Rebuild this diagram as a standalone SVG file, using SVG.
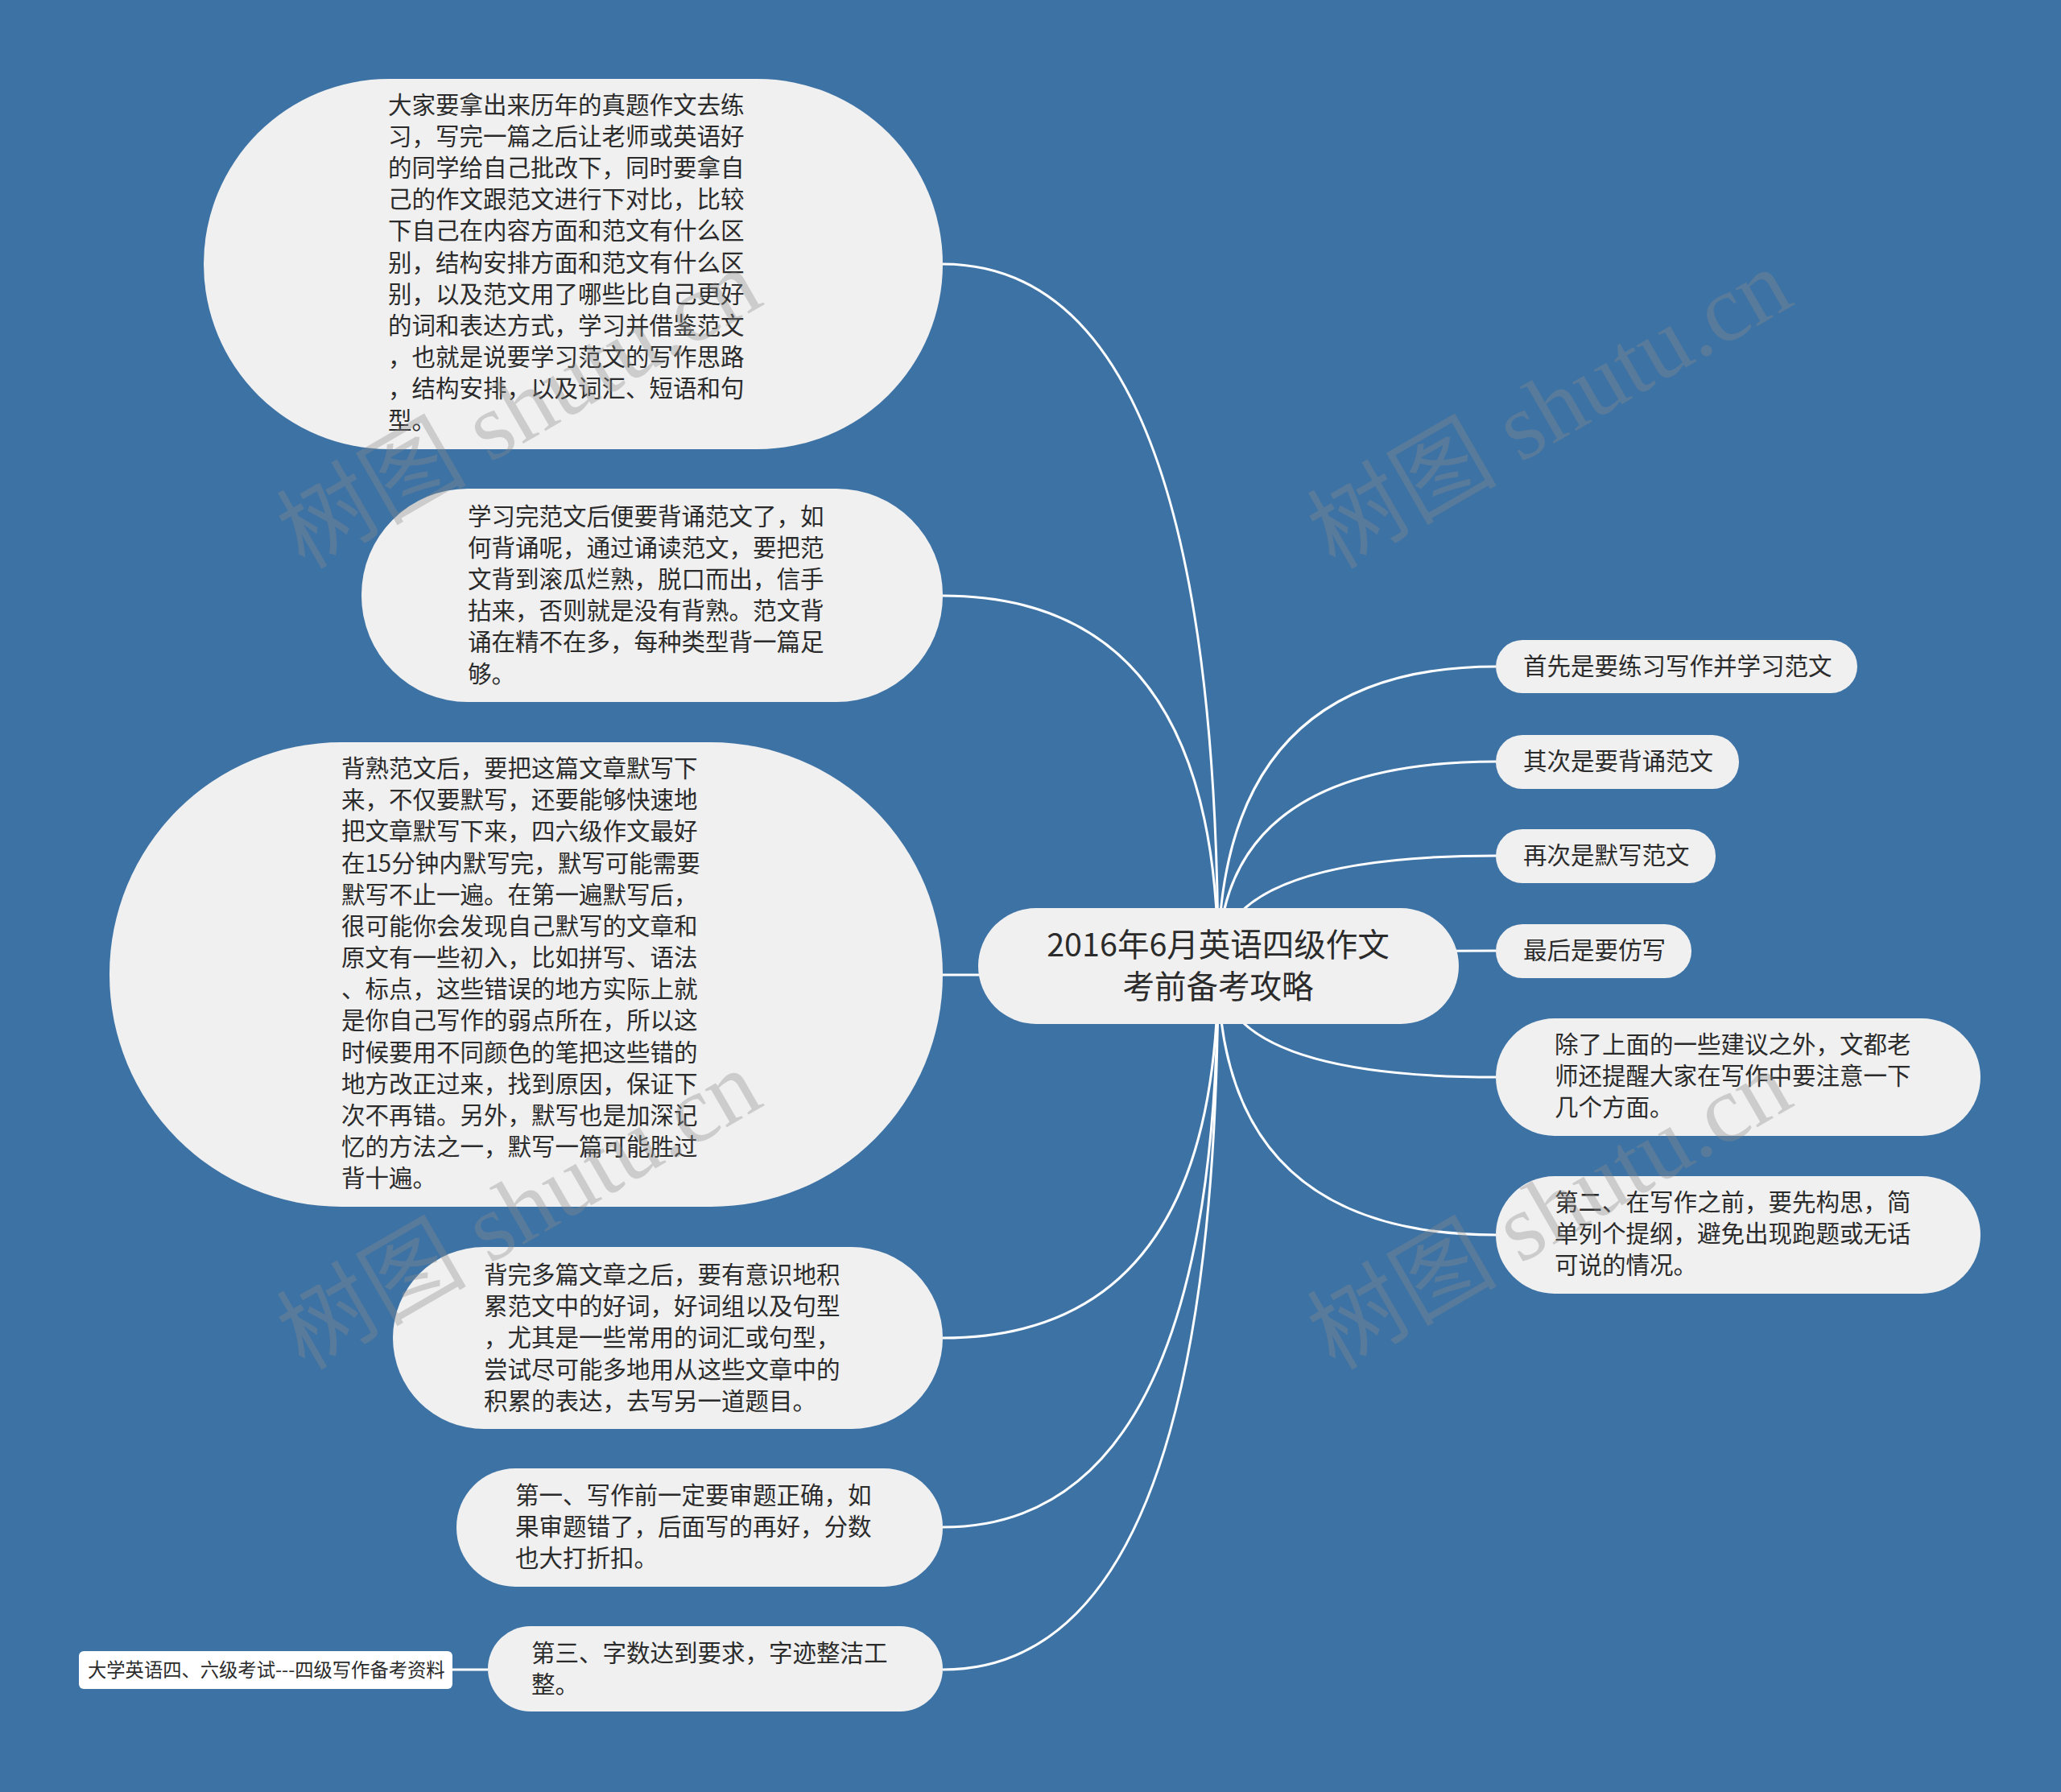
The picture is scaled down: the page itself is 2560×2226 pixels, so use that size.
<svg xmlns="http://www.w3.org/2000/svg" width="2560" height="2226" viewBox="0 0 2560 2226">
<style>
.bg{fill:#3d72a5}
.node{fill:#f0f0f0}
.leaf{fill:#ffffff}
.t{font-family:"Noto Sans CJK SC","Liberation Sans",sans-serif;font-size:29.5px;fill:#2b2b2b}
.tc{font-family:"Noto Sans CJK SC","Liberation Sans",sans-serif;font-size:39.5px;fill:#2b2b2b;text-anchor:middle}
.ts{font-family:"Noto Sans CJK SC","Liberation Sans",sans-serif;font-size:23.3px;fill:#2b2b2b}
.c{fill:none;stroke:#ffffff;stroke-width:3}
.wm{font-family:"Liberation Serif","Noto Sans CJK SC",serif;font-size:118px;fill:#8a8a8a;opacity:0.35}
</style>
<rect class="bg" x="0" y="0" width="2560" height="2226"/>
<g id="connectors">
<path class="c" d="M1513 1200 Q1513 328 1171 328"/>
<path class="c" d="M1513 1200 Q1513 740 1171 740"/>
<path class="c" d="M1513 1200 Q1513 1211 1171 1211"/>
<path class="c" d="M1513 1200 Q1513 1662 1171 1662"/>
<path class="c" d="M1513 1200 Q1513 1897 1171 1897"/>
<path class="c" d="M1513 1200 Q1513 2074 1171 2074"/>
<path class="c" d="M1513 1200 Q1513 828 1858 828"/>
<path class="c" d="M1513 1200 Q1513 946 1858 946"/>
<path class="c" d="M1513 1200 Q1513 1063 1858 1063"/>
<path class="c" d="M1513 1200 Q1513 1181 1858 1181"/>
<path class="c" d="M1513 1200 Q1513 1338 1858 1338"/>
<path class="c" d="M1513 1200 Q1513 1534 1858 1534"/>
<path class="c" d="M562 2074 L606 2074"/>
</g>
<g id="root">
<rect class="node" x="1215" y="1128" width="597" height="144" rx="72"/>
<text class="tc" x="1513" y="1188">2016年6月英语四级作文</text>
<text class="tc" x="1513" y="1240">考前备考攻略</text>
</g>
<g id="n1">
<rect class="node" x="253" y="98" width="918" height="460" rx="230"/>
<text class="t">
<tspan x="482" y="141">大家要拿出来历年的真题作文去练</tspan>
<tspan x="482" y="180">习，写完一篇之后让老师或英语好</tspan>
<tspan x="482" y="219">的同学给自己批改下，同时要拿自</tspan>
<tspan x="482" y="258">己的作文跟范文进行下对比，比较</tspan>
<tspan x="482" y="297">下自己在内容方面和范文有什么区</tspan>
<tspan x="482" y="337">别，结构安排方面和范文有什么区</tspan>
<tspan x="482" y="376">别，以及范文用了哪些比自己更好</tspan>
<tspan x="482" y="415">的词和表达方式，学习并借鉴范文</tspan>
<tspan x="482" y="454">，也就是说要学习范文的写作思路</tspan>
<tspan x="482" y="493">，结构安排，以及词汇、短语和句</tspan>
<tspan x="482" y="533">型。</tspan>
</text>
</g>
<g id="n2">
<rect class="node" x="449" y="607" width="722" height="265" rx="132"/>
<text class="t">
<tspan x="581" y="652">学习完范文后便要背诵范文了，如</tspan>
<tspan x="581" y="691">何背诵呢，通过诵读范文，要把范</tspan>
<tspan x="581" y="730">文背到滚瓜烂熟，脱口而出，信手</tspan>
<tspan x="581" y="769">拈来，否则就是没有背熟。范文背</tspan>
<tspan x="581" y="808">诵在精不在多，每种类型背一篇足</tspan>
<tspan x="581" y="848">够。</tspan>
</text>
</g>
<g id="n3">
<rect class="node" x="136" y="922" width="1035" height="577" rx="288"/>
<text class="t">
<tspan x="424" y="965">背熟范文后，要把这篇文章默写下</tspan>
<tspan x="424" y="1004">来，不仅要默写，还要能够快速地</tspan>
<tspan x="424" y="1043">把文章默写下来，四六级作文最好</tspan>
<tspan x="424" y="1083">在15分钟内默写完，默写可能需要</tspan>
<tspan x="424" y="1122">默写不止一遍。在第一遍默写后，</tspan>
<tspan x="424" y="1161">很可能你会发现自己默写的文章和</tspan>
<tspan x="424" y="1200">原文有一些初入，比如拼写、语法</tspan>
<tspan x="424" y="1239">、标点，这些错误的地方实际上就</tspan>
<tspan x="424" y="1278">是你自己写作的弱点所在，所以这</tspan>
<tspan x="424" y="1318">时候要用不同颜色的笔把这些错的</tspan>
<tspan x="424" y="1357">地方改正过来，找到原因，保证下</tspan>
<tspan x="424" y="1396">次不再错。另外，默写也是加深记</tspan>
<tspan x="424" y="1435">忆的方法之一，默写一篇可能胜过</tspan>
<tspan x="424" y="1474">背十遍。</tspan>
</text>
</g>
<g id="n4">
<rect class="node" x="488" y="1549" width="683" height="226" rx="113"/>
<text class="t">
<tspan x="601" y="1594">背完多篇文章之后，要有意识地积</tspan>
<tspan x="601" y="1633">累范文中的好词，好词组以及句型</tspan>
<tspan x="601" y="1672">，尤其是一些常用的词汇或句型，</tspan>
<tspan x="601" y="1712">尝试尽可能多地用从这些文章中的</tspan>
<tspan x="601" y="1751">积累的表达，去写另一道题目。</tspan>
</text>
</g>
<g id="n5">
<rect class="node" x="567" y="1824" width="604" height="147" rx="73"/>
<text class="t">
<tspan x="640" y="1868">第一、写作前一定要审题正确，如</tspan>
<tspan x="640" y="1907">果审题错了，后面写的再好，分数</tspan>
<tspan x="640" y="1946">也大打折扣。</tspan>
</text>
</g>
<g id="n6">
<rect class="node" x="606" y="2020" width="565" height="106" rx="53"/>
<text class="t">
<tspan x="660" y="2064">第三、字数达到要求，字迹整洁工</tspan>
<tspan x="660" y="2103">整。</tspan>
</text>
</g>
<g id="n7">
<rect class="leaf" x="98" y="2051" width="464" height="47" rx="6"/>
<text class="ts" x="109" y="2083">大学英语四、六级考试---四级写作备考资料</text>
</g>
<g id="r1">
<rect class="node" x="1858" y="795" width="449" height="66" rx="33"/>
<text class="t" x="1892" y="838">首先是要练习写作并学习范文</text>
</g>
<g id="r2">
<rect class="node" x="1858" y="913" width="302" height="67" rx="33"/>
<text class="t" x="1892" y="956">其次是要背诵范文</text>
</g>
<g id="r3">
<rect class="node" x="1858" y="1030" width="273" height="67" rx="33"/>
<text class="t" x="1892" y="1073">再次是默写范文</text>
</g>
<g id="r4">
<rect class="node" x="1858" y="1148" width="243" height="67" rx="33"/>
<text class="t" x="1892" y="1191">最后是要仿写</text>
</g>
<g id="r5">
<rect class="node" x="1858" y="1265" width="602" height="146" rx="73"/>
<text class="t">
<tspan x="1931" y="1308">除了上面的一些建议之外，文都老</tspan>
<tspan x="1931" y="1347">师还提醒大家在写作中要注意一下</tspan>
<tspan x="1931" y="1386">几个方面。</tspan>
</text>
</g>
<g id="r6">
<rect class="node" x="1858" y="1461" width="602" height="146" rx="73"/>
<text class="t">
<tspan x="1931" y="1504">第二、在写作之前，要先构思，简</tspan>
<tspan x="1931" y="1543">单列个提纲，避免出现跑题或无话</tspan>
<tspan x="1931" y="1582">可说的情况。</tspan>
</text>
</g>
<g id="watermarks">
<text class="wm" transform="translate(378 708) rotate(-30)">树图 shutu.cn</text>
<text class="wm" transform="translate(1658 708) rotate(-30)">树图 shutu.cn</text>
<text class="wm" transform="translate(378 1703) rotate(-30)">树图 shutu.cn</text>
<text class="wm" transform="translate(1658 1703) rotate(-30)">树图 shutu.cn</text>
</g>
</svg>
